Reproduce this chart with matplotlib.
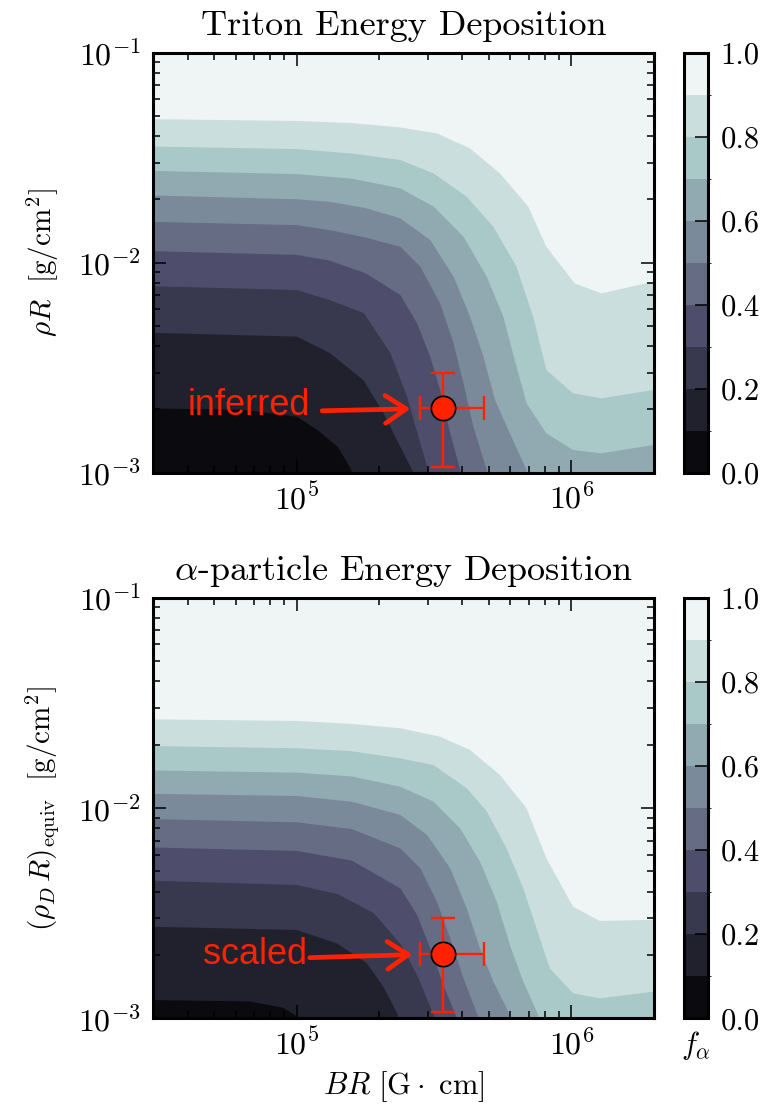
import numpy as np
import matplotlib
matplotlib.use("Agg")
import matplotlib.pyplot as plt
from matplotlib.colors import ListedColormap, BoundaryNorm
from matplotlib.cm import ScalarMappable
from matplotlib.ticker import LogLocator, NullFormatter, FormatStrFormatter

plt.rcParams["font.family"] = "cmr10"
plt.rcParams["mathtext.fontset"] = "cm"
plt.rcParams["axes.formatter.use_mathtext"] = True

# deposited-energy fraction levels of the filled contours
levels = [0.0, 0.1, 0.2, 0.3, 0.4, 0.5, 0.6, 0.7, 0.8, 0.9, 1.0]
cbar_ticks = [0.0, 0.2, 0.4, 0.6, 0.8, 1.0]

# contour lines f = 0.1 ... 0.9 of the triton map: log10(BR [G cm]) and log10(rhoR [g/cm^2])
triton_logBR = [
    [4.45, 4.80, 5.00, 5.075, 5.148, 5.196, 5.21],
    [4.45, 5.00, 5.12, 5.243, 5.316, 5.377, 5.42, 5.43],
    [4.45, 5.00, 5.12, 5.244, 5.341, 5.402, 5.439, 5.475, 5.49],
    [4.45, 5.00, 5.12, 5.25, 5.377, 5.438, 5.486, 5.522, 5.559, 5.595, 5.61],
    [4.45, 5.00, 5.12, 5.25, 5.377, 5.450, 5.522, 5.571, 5.607, 5.643, 5.692, 5.70],
    [4.45, 5.00, 5.12, 5.25, 5.377, 5.486, 5.571, 5.631, 5.680, 5.722, 5.776, 5.837, 5.845],
    [4.45, 5.00, 5.20, 5.377, 5.498, 5.607, 5.692, 5.752, 5.800, 5.837, 5.909, 6.006, 6.109, 6.30],
    [4.45, 5.00, 5.20, 5.377, 5.498, 5.619, 5.716, 5.800, 5.861, 5.909, 6.006, 6.109, 6.30],
    [4.45, 5.00, 5.20, 5.377, 5.510, 5.631, 5.740, 5.843, 5.909, 6.012, 6.109, 6.30],
]
triton_logRhoR = [
    [-2.694, -2.700, -2.733, -2.797, -2.876, -2.979, -3.05],
    [-2.333, -2.352, -2.430, -2.560, -2.717, -2.877, -2.987, -3.05],
    [-2.111, -2.130, -2.178, -2.240, -2.431, -2.640, -2.811, -2.973, -3.05],
    [-1.944, -1.963, -1.990, -2.050, -2.154, -2.289, -2.448, -2.606, -2.813, -2.987, -3.05],
    [-1.805, -1.821, -1.845, -1.880, -1.924, -2.019, -2.194, -2.384, -2.575, -2.781, -2.987, -3.05],
    [-1.679, -1.698, -1.710, -1.740, -1.789, -1.892, -2.067, -2.257, -2.448, -2.654, -2.813, -2.987, -3.05],
    [-1.562, -1.578, -1.600, -1.646, -1.733, -1.876, -2.067, -2.257, -2.495, -2.670, -2.813, -2.892, -2.908, -2.868],
    [-1.446, -1.459, -1.480, -1.511, -1.575, -1.686, -1.829, -2.019, -2.257, -2.511, -2.622, -2.646, -2.606],
    [-1.316, -1.325, -1.335, -1.356, -1.384, -1.456, -1.575, -1.733, -1.924, -2.098, -2.146, -2.090],
]

# contour lines f = 0.1 ... 0.9 of the alpha-particle map
alpha_logBR = [
    [4.45, 4.83, 4.95, 5.00, 5.01],
    [4.45, 5.00, 5.145, 5.254, 5.315, 5.365, 5.38],
    [4.45, 5.00, 5.15, 5.28, 5.38, 5.44, 5.50, 5.51],
    [4.45, 5.00, 5.20, 5.377, 5.438, 5.486, 5.534, 5.58, 5.59],
    [4.45, 5.00, 5.20, 5.377, 5.450, 5.510, 5.559, 5.607, 5.66, 5.67],
    [4.45, 5.00, 5.20, 5.377, 5.474, 5.559, 5.619, 5.667, 5.716, 5.776, 5.78],
    [4.45, 5.00, 5.20, 5.377, 5.498, 5.595, 5.667, 5.728, 5.776, 5.825, 5.879, 5.885],
    [4.45, 5.00, 5.20, 5.377, 5.498, 5.619, 5.692, 5.764, 5.825, 5.873, 5.921, 6.006, 6.103, 6.30],
    [4.45, 5.00, 5.20, 5.377, 5.522, 5.631, 5.740, 5.837, 5.909, 6.006, 6.103, 6.30],
]
alpha_logRhoR = [
    [-2.913, -2.920, -2.950, -2.990, -3.05],
    [-2.564, -2.580, -2.643, -2.737, -2.850, -2.975, -3.05],
    [-2.345, -2.366, -2.410, -2.500, -2.650, -2.800, -2.990, -3.05],
    [-2.187, -2.204, -2.250, -2.382, -2.509, -2.667, -2.841, -2.990, -3.05],
    [-2.052, -2.068, -2.100, -2.192, -2.287, -2.445, -2.620, -2.810, -2.990, -3.05],
    [-1.932, -1.943, -1.970, -2.033, -2.128, -2.287, -2.477, -2.667, -2.826, -2.984, -3.05],
    [-1.821, -1.832, -1.850, -1.899, -1.970, -2.097, -2.255, -2.445, -2.651, -2.826, -2.984, -3.05],
    [-1.705, -1.716, -1.730, -1.764, -1.796, -1.906, -2.017, -2.192, -2.382, -2.572, -2.762, -2.881, -2.905, -2.873],
    [-1.578, -1.586, -1.600, -1.621, -1.661, -1.724, -1.843, -2.002, -2.239, -2.469, -2.537, -2.532],
]

# measured point with asymmetric error bars
point_BR = 3.42e5
point_BR_err = [[0.62e5], [1.39e5]]
point_rhoR = 2.03e-3
point_rhoR_err = [[0.96e-3], [0.96e-3]]
point_labels = ["inferred", "scaled"]

titles = ["Triton Energy Deposition", r"$\alpha$-particle Energy Deposition"]
ylabels = [r"$\rho R\ \ [\mathrm{g/cm}^2]$",
           r"$(\rho_D\,R)_{\mathrm{equiv}}\ \ [\mathrm{g/cm}^2]$"]

bone = plt.get_cmap("bone")
band_colors = [bone((levels[i] + levels[i + 1]) / 2) for i in range(len(levels) - 1)]
band_cmap = ListedColormap(band_colors)
band_norm = BoundaryNorm(levels, band_cmap.N)

RED = "#ff2200"
W, H = 776, 1104
fig = plt.figure(figsize=(W / 100, H / 100), dpi=100)

panel_boxes = [
    (153.3, 52.7, 654.0, 472.7),
    (153.3, 597.7, 654.0, 1018.3),
]
cbar_x = (684.0, 708.0)


def frac_box(x0, y0, x1, y1):
    return [x0 / W, 1 - y1 / H, (x1 - x0) / W, (y1 - y0) / H]


xlim = (3e4, 2e6)
ylim = (1e-3, 1e-1)

panels = [(triton_logBR, triton_logRhoR), (alpha_logBR, alpha_logRhoR)]
text_offsets = [(-96.0, -4.8), (-98.4, -7.2)]
arrow_offsets = [(-87.3, -1.9, 23.8), (-96.3, -2.9, 22.3)]

for i, (lbr, lrr) in enumerate(panels):
    x0, y0, x1, y1 = panel_boxes[i]
    ax = fig.add_axes(frac_box(x0, y0, x1, y1))
    ax.set_xscale("log")
    ax.set_yscale("log")
    ax.set_facecolor(band_colors[0])

    # paint the nested regions f > level in increasing order
    for k in range(len(lbr)):
        bx = list(10.0 ** np.array(lbr[k]))
        by = list(10.0 ** np.array(lrr[k]))
        px = bx + [1e8, 1e8, 1e3, 1e3]
        py = by + [by[-1], 10.0, 10.0, by[0]]
        ax.fill(px, py, color=band_colors[k + 1], lw=0, zorder=1)

    ax.set_xlim(*xlim)
    ax.set_ylim(*ylim)

    ax.errorbar([point_BR], [point_rhoR], yerr=point_rhoR_err, fmt="none",
                ecolor=RED, elinewidth=1.7, capsize=8.6, capthick=1.7, zorder=4)
    ax.errorbar([point_BR], [point_rhoR], xerr=point_BR_err, fmt="none",
                ecolor=RED, elinewidth=1.7, capsize=8.6, capthick=1.7, zorder=4)
    ax.plot([point_BR], [point_rhoR], "o", ms=17.5, mfc=RED, mec="black",
            mew=1.2, zorder=5)

    adx, ady, shrink = arrow_offsets[i]
    ax.annotate("", xy=(point_BR, point_rhoR), xytext=(adx, ady),
                textcoords="offset points",
                arrowprops=dict(arrowstyle="->,head_length=0.75,head_width=0.5",
                                color=RED, lw=3.4, shrinkA=0, shrinkB=shrink,
                                mutation_scale=20),
                zorder=6)
    tdx, tdy = text_offsets[i]
    ax.annotate(point_labels[i], xy=(point_BR, point_rhoR), xytext=(tdx, tdy),
                textcoords="offset points", ha="right", va="baseline",
                color=RED, fontsize=26, family="Liberation Sans", zorder=6)

    ax.xaxis.set_major_locator(LogLocator(base=10, numticks=10))
    ax.xaxis.set_minor_locator(LogLocator(base=10, subs=np.arange(2, 10), numticks=20))
    ax.yaxis.set_major_locator(LogLocator(base=10, numticks=10))
    ax.yaxis.set_minor_locator(LogLocator(base=10, subs=np.arange(2, 10), numticks=20))
    ax.xaxis.set_minor_formatter(NullFormatter())
    ax.yaxis.set_minor_formatter(NullFormatter())
    ax.tick_params(which="both", direction="in", top=True, right=True,
                   labelsize=23, colors="black")
    ax.tick_params(which="major", length=9.5, width=1.1)
    ax.tick_params(which="minor", length=5, width=1.1)
    ax.tick_params(axis="x", which="major", pad=7)
    ax.tick_params(axis="y", which="major", pad=9)
    for sp in ax.spines.values():
        sp.set_linewidth(2.2)
        sp.set_zorder(7)

    ax.set_title(titles[i], fontsize=26, pad=13)
    ax.set_ylabel(ylabels[i], fontsize=21, labelpad=12)
    if i == 1:
        ax.set_xlabel(r"$BR\ [\mathrm{G}\cdot\ \mathrm{cm}]$", fontsize=22, labelpad=6)

    cax = fig.add_axes(frac_box(cbar_x[0], y0, cbar_x[1], y1))
    sm = ScalarMappable(norm=band_norm, cmap=band_cmap)
    cb = fig.colorbar(sm, cax=cax, ticks=cbar_ticks,
                      format=FormatStrFormatter("%.1f"))
    cb.outline.set_linewidth(2.2)
    cax.tick_params(direction="in", length=9.5, width=1.1, labelsize=22, pad=9)
    if i == 1:
        cax.set_xlabel(r"$f_\alpha$", fontsize=22, labelpad=8)

fig.savefig("out.png", dpi=100, facecolor="white")
